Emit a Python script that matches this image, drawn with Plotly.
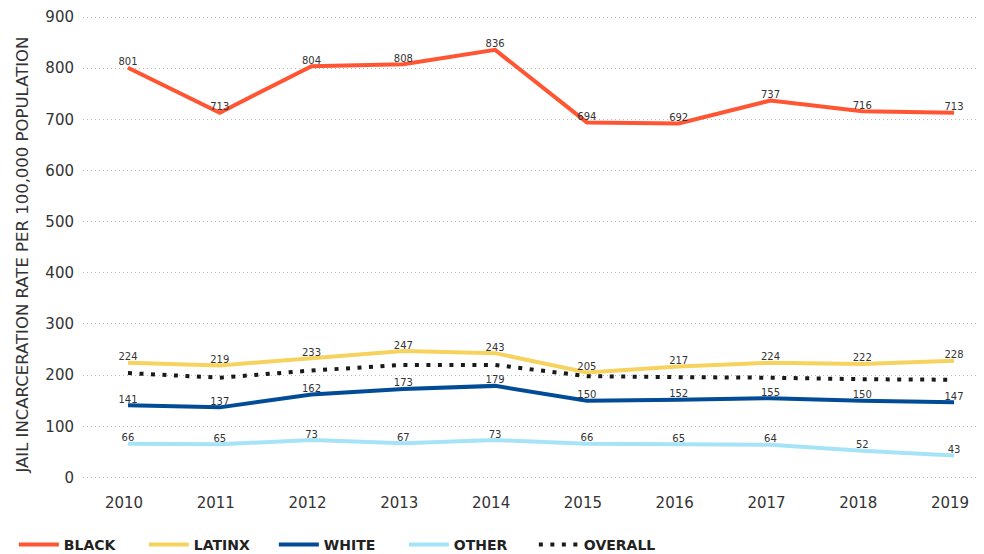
import plotly.graph_objects as go

years = ["2010", "2011", "2012", "2013", "2014", "2015", "2016", "2017", "2018", "2019"]
black = [801, 713, 804, 808, 836, 694, 692, 737, 716, 713]
latinx = [224, 219, 233, 247, 243, 205, 217, 224, 222, 228]
white = [141, 137, 162, 173, 179, 150, 152, 155, 150, 147]
other = [66, 65, 73, 67, 73, 66, 65, 64, 52, 43]
overall = [204, 195, 209, 220, 220, 198, 196, 195, 192, 191]
y_ticks = [0, 100, 200, 300, 400, 500, 600, 700, 800, 900]
y_title = "JAIL INCARCERATION RATE PER 100,000 POPULATION"

FONT = "'DejaVu Sans', sans-serif"
xs = list(range(len(years)))

fig = go.Figure()

def add_line(name, vals, color):
    fig.add_trace(go.Scatter(
        x=xs, y=vals, name=name,
        mode="lines+text",
        text=[str(v) for v in vals],
        textposition="top center",
        textfont=dict(size=10, color="#333333", family=FONT),
        line=dict(color=color, width=4),
        cliponaxis=False,
    ))

add_line("BLACK", black, "#FF5533")
add_line("LATINX", latinx, "#F6D35E")
add_line("WHITE", white, "#024C97")
add_line("OTHER", other, "#A6E3F7")
fig.add_trace(go.Scatter(
    x=xs, y=overall, name="OVERALL", mode="lines",
    line=dict(color="#1a1a1a", width=4, dash="4px,7.5px"),
    cliponaxis=False,
))

fig.add_annotation(
    text=y_title, xref="paper", yref="paper", x=-0.068, y=0.482,
    xanchor="center", yanchor="middle", textangle=-90, showarrow=False,
    font=dict(size=16.5, color="#333333", family=FONT),
)

fig.update_layout(
    width=976, height=546,
    margin=dict(l=75, r=7, t=6, b=74),
    paper_bgcolor="white", plot_bgcolor="white",
    font=dict(family=FONT, color="#333333", size=15),
    showlegend=True,
    legend=dict(
        orientation="h", xref="container", x=0.006, xanchor="left",
        yref="container", y=0.0165, yanchor="middle",
        font=dict(size=14, color="#222222", family="'DejaVu Sans', sans-serif", weight="bold"),
        itemwidth=40, tracegroupgap=0, entrywidth=75, entrywidthmode="pixels",
    ),
    xaxis=dict(
        range=[-0.49, 9.25], tickmode="array", tickvals=xs, ticktext=years,
        showgrid=False, zeroline=False, showline=False, automargin=False,
        tickfont=dict(size=15, color="#333333"), ticks="",
        ticklabelstandoff=12, ticklabelshift=-4,
    ),
    yaxis=dict(
        range=[-5, 906], tickvals=y_ticks, showgrid=True, gridcolor="#bbbbbb",
        griddash="1px,3px", gridwidth=1, zeroline=False, showline=False,
        automargin=False, ticklabeloverflow="allow",
        tickfont=dict(size=15, color="#333333"), ticks="", ticklabelstandoff=8,
    ),
)

fig.write_html("out.html")
